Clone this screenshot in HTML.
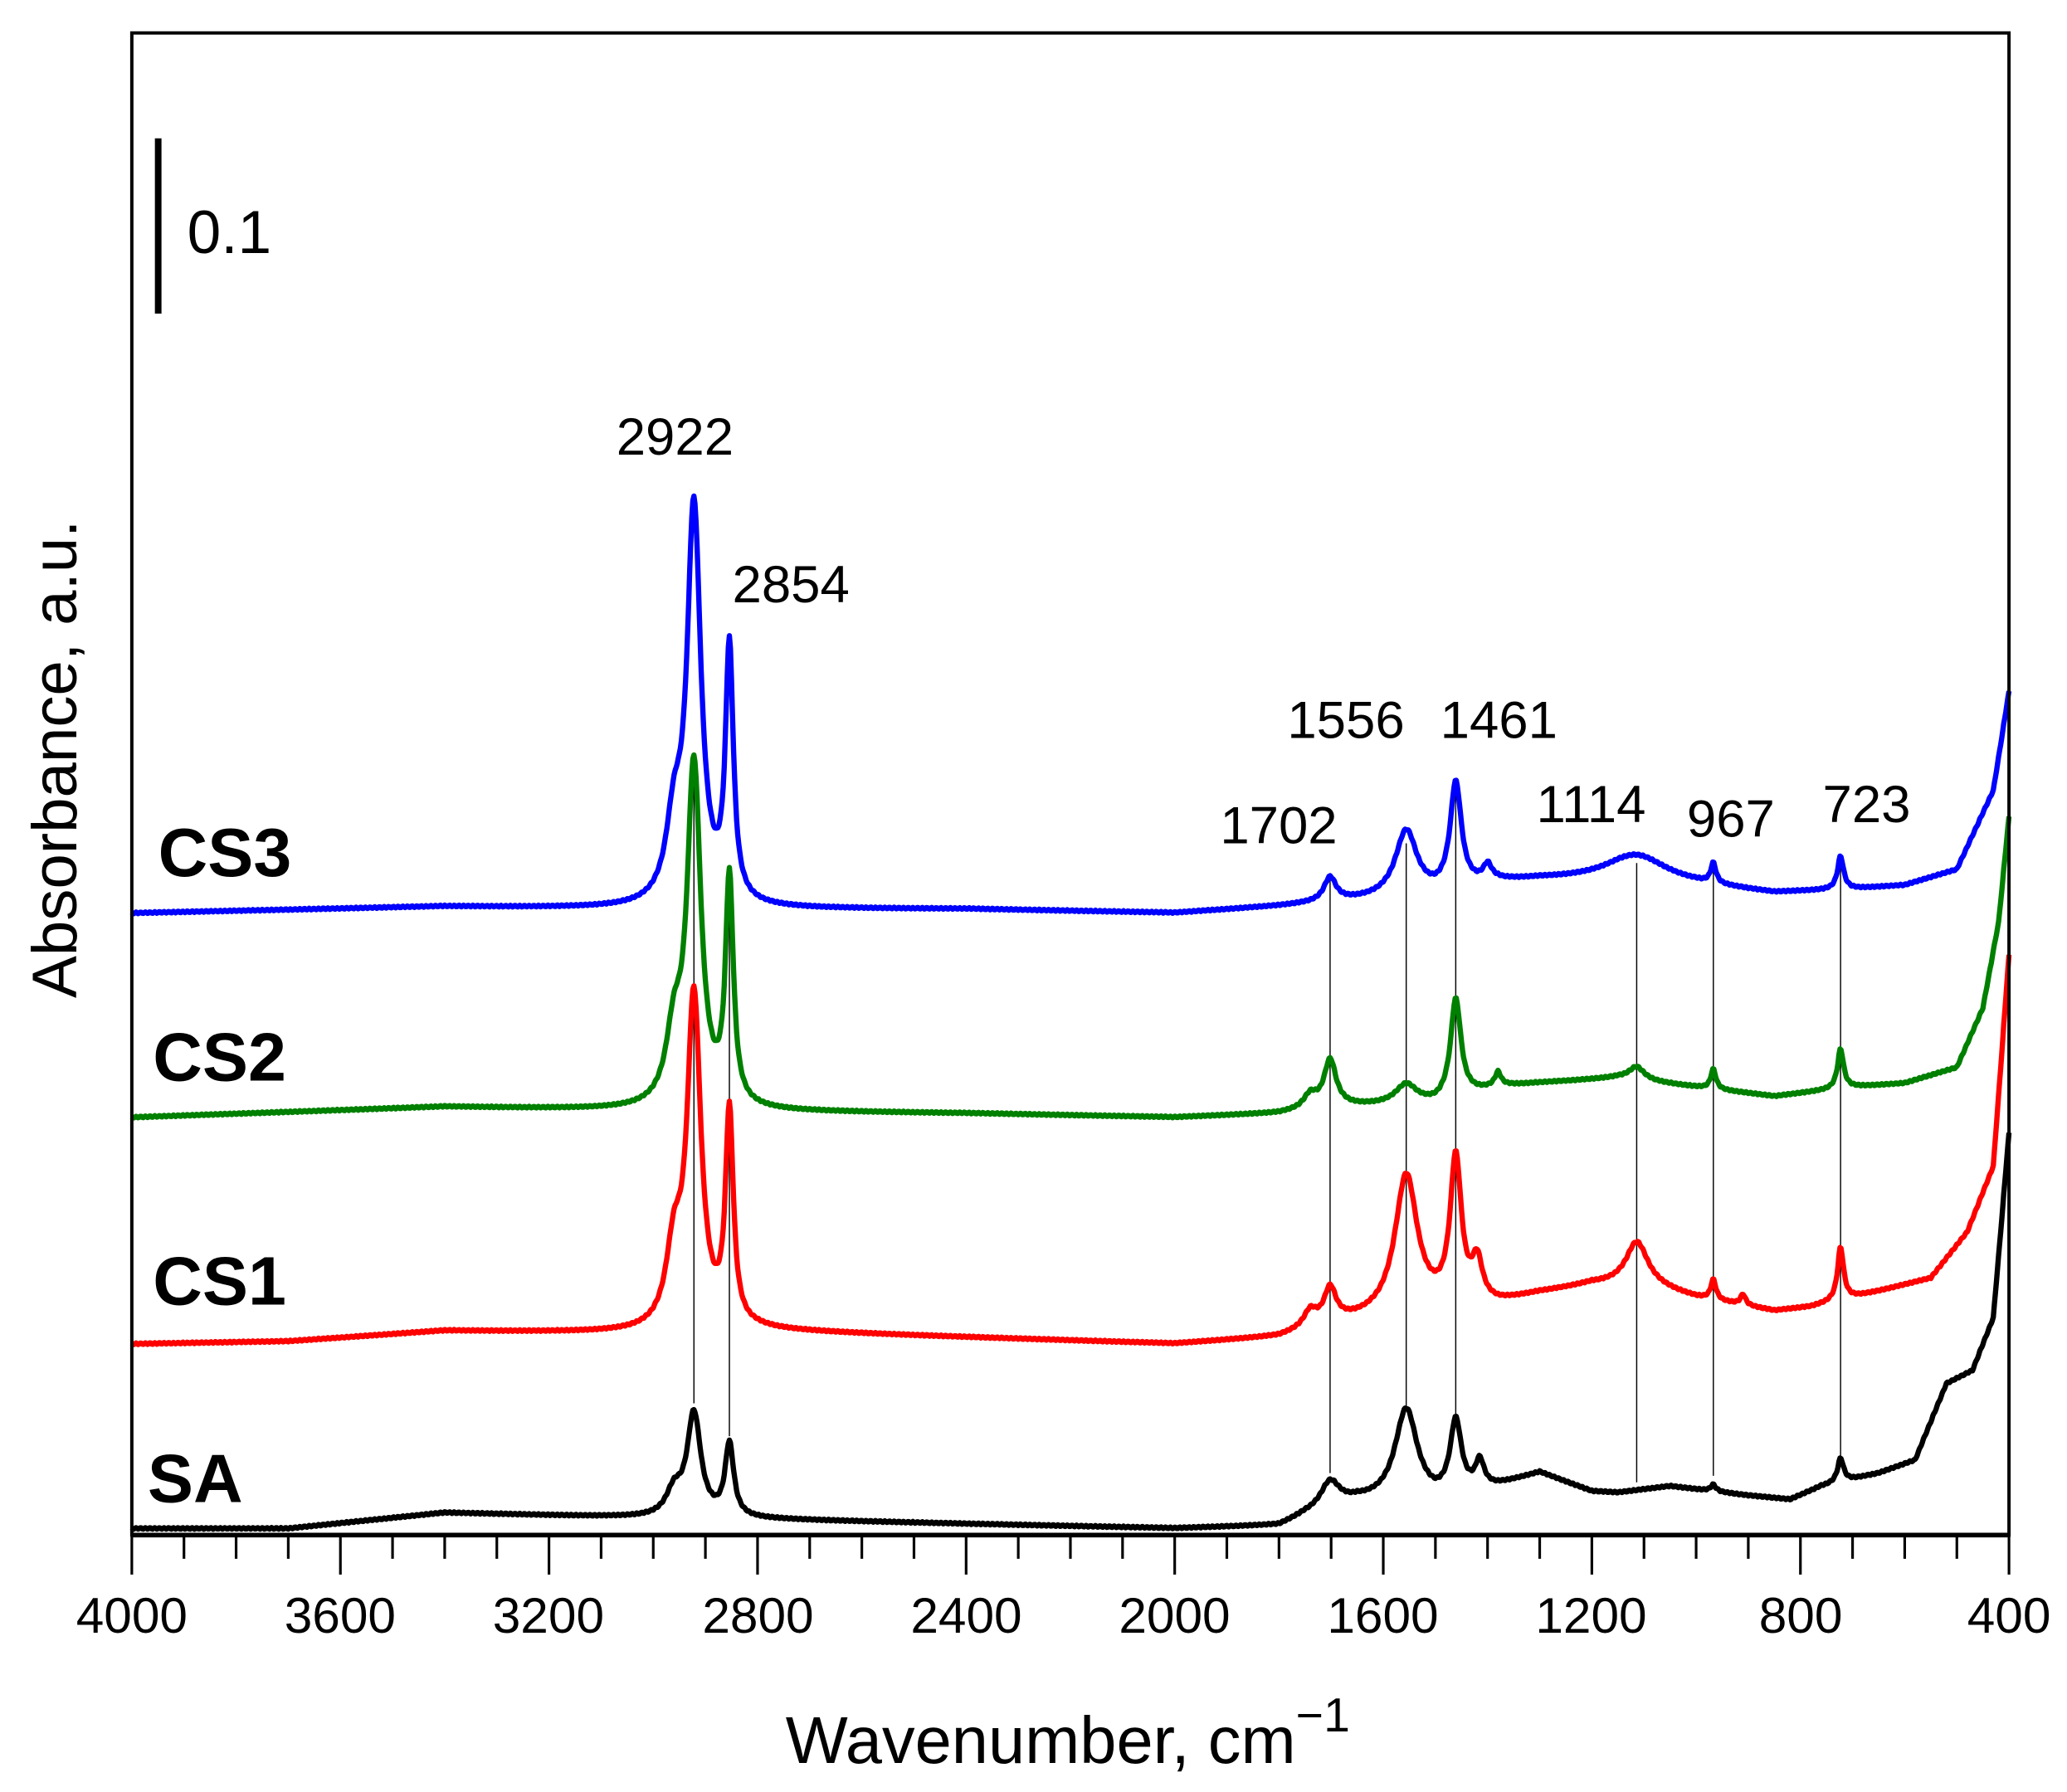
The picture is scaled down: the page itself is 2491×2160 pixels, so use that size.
<!DOCTYPE html>
<html><head><meta charset="utf-8"><style>html,body{margin:0;padding:0;background:#fff}svg{display:block}</style></head>
<body>
<svg id="s" width="2491" height="2160" viewBox="0 0 1568 1360" preserveAspectRatio="none" xmlns="http://www.w3.org/2000/svg" font-family="Liberation Sans, Arial, sans-serif">
<rect width="1568" height="1360" fill="#fff"/>
<g id="vl" stroke="#000" stroke-width="0.9"></g>
<g id="sp" fill="none" stroke-width="4" stroke-linejoin="round"></g>
<rect x="100" y="25" width="1424" height="1140" fill="none" stroke="#000" stroke-width="2.5"/>
<line x1="100" y1="1165" x2="1524" y2="1165" stroke="#000" stroke-width="3.5"/>
<g id="tk" stroke="#000" stroke-width="2"></g>
<g font-size="38" text-anchor="middle" fill="#000">
<text x="100" y="1239">4000</text><text x="258" y="1239">3600</text><text x="416" y="1239">3200</text><text x="575" y="1239">2800</text><text x="733" y="1239">2400</text><text x="891" y="1239">2000</text><text x="1049" y="1239">1600</text><text x="1207" y="1239">1200</text><text x="1366" y="1239">800</text><text x="1524" y="1239">400</text>
</g>
<text x="810" y="1338" font-size="50" text-anchor="middle">Wavenumber, cm<tspan dy="-24" font-size="36">−1</tspan></text>
<text transform="translate(58,576) rotate(-90)" font-size="48" text-anchor="middle">Absorbance, a.u.</text>
<line x1="120" y1="105" x2="120" y2="238" stroke="#000" stroke-width="5"/>
<text x="142" y="192" font-size="46">0.1</text>
<g font-size="40" text-anchor="middle">
<text x="512" y="345">2922</text><text x="600" y="457">2854</text><text x="970" y="640">1702</text><text x="1021" y="560">1556</text><text x="1137" y="560">1461</text><text x="1207" y="624">1114</text><text x="1313" y="635">967</text><text x="1416" y="624">723</text>
</g>
<g font-size="52" font-weight="bold">
<text x="120" y="665">CS3</text><text x="116" y="820">CS2</text><text x="116" y="990">CS1</text><text x="112" y="1140">SA</text>
</g>
</svg>
<script>
var NS="http://www.w3.org/2000/svg";
function X(w){return 100+(4000-w)*1424/3600;}
function interp(b,w){for(var i=0;i<b.length-1;i++){if(w<=b[i][0]&&w>=b[i+1][0]){var t=(b[i][0]-w)/(b[i][0]-b[i+1][0]);return b[i][1]+t*(b[i+1][1]-b[i][1]);}}return b[b.length-1][1];}
var S=[
{c:"#000",b:[[4000,1160],[3700,1160],[3400,1148],[3000,1152],[2800,1153],[2000,1160],[1800,1158],[1750,1150],[1650,1140],[1500,1140],[1380,1128],[1300,1118],[1200,1132],[1150,1133],[1050,1128],[900,1135],[820,1138],[760,1128],[650,1118],[580,1108],[520,1050],[470,1040],[430,1000],[400,860]],
 p:[[2922,78,16],[2854,55,10],[2960,18,18],[1702,20,22],[1556,70,26],[1461,55,13],[1415,20,10],[967,5,6],[723,18,7]]},
{c:"#ff0000",b:[[4000,1020],[3700,1018],[3400,1010],[3000,1012],[2800,1010],[2400,1015],[2000,1020],[1800,1015],[1700,1005],[1500,995],[1380,990],[1300,982],[1200,975],[1100,975],[1000,985],[850,995],[780,992],[650,980],[550,970],[480,935],[430,885],[400,725]],
 p:[[2922,250,16],[2854,160,9],[2960,55,18],[1702,25,14],[1740,12,15],[1556,105,26],[1461,110,13],[1420,30,12],[1114,32,25],[967,15,6],[910,8,6],[723,40,7]]},
{c:"#008000",b:[[4000,848],[3400,840],[3000,843],[2400,845],[2000,848],[1800,845],[1700,840],[1500,838],[1380,825],[1300,822],[1150,818],[1000,825],[850,832],[700,825],[600,822],[500,810],[450,765],[420,700],[400,620]],
 p:[[2922,258,16],[2854,170,9],[2960,50,18],[1702,35,14],[1740,10,15],[1556,15,25],[1461,75,12],[1380,10,7],[1114,10,18],[967,15,6],[723,30,7]]},
{c:"#0000ff",b:[[4000,693],[3400,688],[3000,690],[2400,690],[2000,693],[1800,688],[1700,685],[1500,680],[1380,670],[1300,668],[1150,668],[1000,672],[850,678],[700,675],[600,672],[500,660],[430,600],[400,525]],
 p:[[2922,300,16],[2854,190,9],[2960,55,18],[1702,18,14],[1556,50,25],[1461,80,13],[1400,12,10],[1114,20,70],[967,15,6],[723,25,7]]}
];
var sp=document.getElementById("sp");
S.forEach(function(s){var d="";for(var w=4000;w>=400;w-=2){var y=interp(s.b,w);s.p.forEach(function(p){var q=(w-p[0])/p[2];y-=p[1]/(1+q*q);});y+=Math.sin(w*0.7)*0.6;d+=(w==4000?"M":"L")+X(w).toFixed(1)+","+y.toFixed(1);}var e=document.createElementNS(NS,"path");e.setAttribute("d",d);e.setAttribute("stroke",s.c);sp.appendChild(e);});
var vl=document.getElementById("vl");
[[2922,580,1065],[2854,660,1090],[1702,668,1118],[1556,640,1068],[1461,600,1075],[1114,655,1125],[967,660,1120],[723,650,1105]].forEach(function(v){var l=document.createElementNS(NS,"line");l.setAttribute("x1",X(v[0]));l.setAttribute("x2",X(v[0]));l.setAttribute("y1",v[1]);l.setAttribute("y2",v[2]);vl.appendChild(l);});
var tk=document.getElementById("tk");
for(var w=4000;w>=400;w-=100){var l=document.createElementNS(NS,"line");var x=X(w);l.setAttribute("x1",x);l.setAttribute("x2",x);l.setAttribute("y1",1165);l.setAttribute("y2",w%400==0?1195:1183);tk.appendChild(l);}
</script>
</body></html>
